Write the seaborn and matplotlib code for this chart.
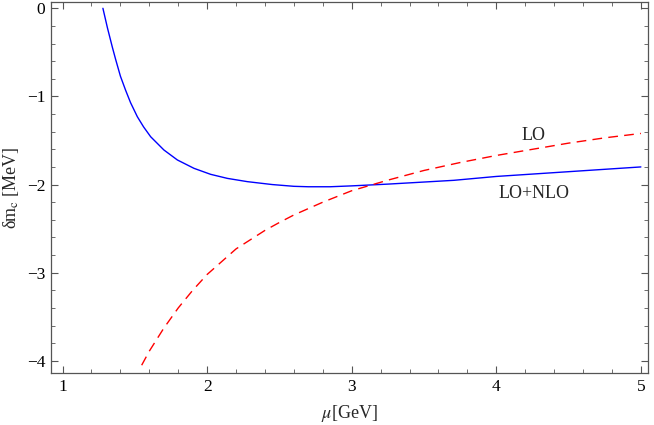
import numpy as np
import pandas as pd
import seaborn as sns
import matplotlib as mpl
import matplotlib.ticker
import matplotlib.pyplot as plt

sns.set_theme(style="ticks")
mpl.rcParams["font.family"] = ["Liberation Serif", "DejaVu Serif"]
mpl.rcParams["mathtext.fontset"] = "stix"

# values
mu_nlo = [1.279, 1.31, 1.344, 1.367, 1.40, 1.436, 1.47, 1.517, 1.56, 1.609, 1.701,
          1.794, 1.909, 2.024, 2.14, 2.278, 2.45, 2.6, 2.7, 2.85, 3.0, 3.25, 3.547,
          3.706, 4.0, 4.5, 5.0]
dm_nlo = [0.0, -0.22, -0.44, -0.58, -0.77, -0.93, -1.07, -1.23, -1.345, -1.457, -1.608,
          -1.721, -1.816, -1.884, -1.93, -1.967, -2.0, -2.02, -2.025, -2.025, -2.015, -1.995, -1.967,
          -1.952, -1.908, -1.854, -1.80]

mu_lo = [1.547, 1.6, 1.7, 1.8, 1.9, 2.0, 2.2, 2.4, 2.5, 2.6, 2.8, 3.0, 3.25, 3.5,
         3.75, 4.0, 4.25, 4.5, 4.75, 5.0]
dm_lo = [-4.05, -3.89, -3.63, -3.40, -3.20, -3.02, -2.73, -2.52, -2.43, -2.345, -2.20, -2.07,
         -1.95, -1.84, -1.75, -1.67, -1.60, -1.53, -1.47, -1.42]

x_ticks = [1, 2, 3, 4, 5]
y_ticks = [0, -1, -2, -3, -4]

df = pd.concat([
    pd.DataFrame({"mu": mu_nlo, "dm": dm_nlo, "curve": "LO+NLO"}),
    pd.DataFrame({"mu": mu_lo, "dm": dm_lo, "curve": "LO"}),
])

fig = plt.figure(figsize=(6.54, 4.25), dpi=100)
ax = fig.add_axes([0.078, 0.122, 0.913, 0.873])

sns.lineplot(ax=ax, data=df, x="mu", y="dm", hue="curve",
             palette={"LO+NLO": "#0000ff", "LO": "#ff0000"},
             hue_order=["LO+NLO", "LO"], sort=False, estimator=None,
             legend=False, linewidth=1.0)
ax.lines[1].set_dashes([7, 4.5])

ax.set_xlim(0.92, 5.05)
ax.set_ylim(-4.14, 0.07)
ax.set_xticks(x_ticks)
ax.set_yticks(y_ticks)
ax.xaxis.set_minor_locator(mpl.ticker.MultipleLocator(0.2))
ax.yaxis.set_minor_locator(mpl.ticker.MultipleLocator(0.2))
ax.tick_params(which="both", direction="in", top=True, right=True,
               color="#555555", labelsize=12.5, labelcolor="black")
ax.tick_params(which="major", length=5, width=0.8, pad=4)
ax.tick_params(which="minor", length=3, width=0.6)
ax.set_yticklabels(["0", "\u22121", "\u22122", "\u22123", "\u22124"])
for s in ax.spines.values():
    s.set_color("#555555")
    s.set_linewidth(0.9)

ax.text(4.26, -1.44, "LO", fontsize=13, ha="center", va="center")
ax.text(4.26, -2.10, "LO+NLO", fontsize=13, ha="center", va="center")

ax.set_xlabel(r"$\mu$[GeV]", fontsize=13, labelpad=6)
ax.set_ylabel(r"δm$_\mathrm{c}$ [MeV]", fontsize=13, labelpad=4)

plt.savefig("out.png", dpi=100)
